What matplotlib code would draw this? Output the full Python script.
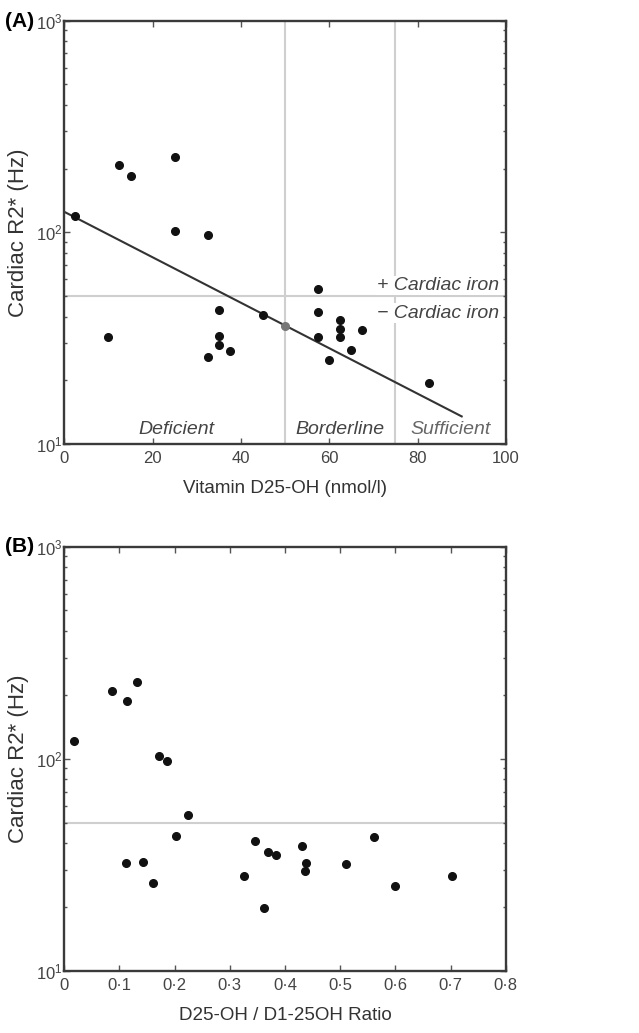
import numpy as np
import matplotlib
matplotlib.use('Agg')
import matplotlib.pyplot as plt

plt.rcParams['font.family'] = ['Liberation Sans', 'DejaVu Sans']
plt.rcParams['mathtext.fontset'] = 'custom'
plt.rcParams['mathtext.rm'] = 'Liberation Sans'
plt.rcParams['mathtext.default'] = 'regular'

# panel A : vitamin D25-OH vs cardiac R2*
vitd = [2.5, 12.5, 15, 25, 25, 32.5, 10, 35, 35, 35, 32.5, 37.5, 45,
        57.5, 57.5, 57.5, 60, 62.5, 62.5, 62.5, 65, 67.5, 82.5]
r2_a = [120, 207, 185, 228, 102, 97, 32, 43, 32.3, 29.2, 25.7, 27.6, 40.6,
        53.9, 42.2, 31.9, 24.9, 38.5, 35.1, 32.1, 27.8, 34.7, 19.5]
# grey point sitting on the fit line at 50
grey_x = [50]
grey_y = [35.9]
# fitted line end points
fit_x = [0, 90]
fit_y = [125, 13.5]

# panel B : D25-OH / D1-25OH ratio vs cardiac R2*
ratio = [0.018, 0.086, 0.113, 0.131, 0.172, 0.186, 0.111, 0.143, 0.161,
         0.203, 0.224, 0.326, 0.346, 0.362, 0.370, 0.384, 0.431, 0.438,
         0.437, 0.510, 0.561, 0.600, 0.702]
r2_b = [121, 209, 187, 229, 103, 98, 32.2, 32.6, 25.8, 43.2, 54.3, 27.9,
        40.8, 19.7, 36.3, 35.2, 38.6, 32.2, 29.5, 32.0, 42.8, 25.1, 28.1]

xt_a = [0, 20, 40, 60, 80, 100]
xt_a_lab = ['0', '20', '40', '60', '80', '100']
xt_b = [0, 0.1, 0.2, 0.3, 0.4, 0.5, 0.6, 0.7, 0.8]
xt_b_lab = ['0', '0·1', '0·2', '0·3', '0·4', '0·5', '0·6', '0·7', '0·8']

fig = plt.figure(figsize=(6.39, 10.33), dpi=100)
axA = fig.add_axes([0.1006, 0.5702, 0.691, 0.4098])
axB = fig.add_axes([0.1006, 0.0603, 0.691, 0.4105])

grey = '#cfcfcf'
spine = '#3a3a3a'


def style(ax):
    ax.set_yscale('log')
    ax.set_ylim(10, 1000)
    for s in ax.spines.values():
        s.set_color(spine)
        s.set_linewidth(1.7)
    ax.tick_params(which='both', direction='in', top=True, right=True,
                   color='#555555', labelcolor='#444444', labelsize=12)
    ax.tick_params(which='major', length=4, width=1)
    ax.tick_params(which='minor', length=2.5, width=1)
    ax.tick_params(axis='x', which='major', pad=5)
    ax.tick_params(axis='y', which='major', pad=1.5)
    ax.set_ylabel('Cardiac R2* (Hz)', fontsize=16, color='#333333', labelpad=5)


# ---- panel A
style(axA)
axA.set_xlim(0, 100)
axA.set_xticks(xt_a)
axA.set_xticklabels(xt_a_lab)
axA.axvline(50, color=grey, lw=1.5, zorder=1)
axA.axvline(75, color=grey, lw=1.5, zorder=1)
axA.axhline(50, color=grey, lw=1.5, zorder=1)
axA.plot(fit_x, fit_y, color='#333333', lw=1.5, zorder=2)
axA.plot(vitd, r2_a, 'o', color='#111111', ms=5.5, zorder=3)
axA.plot(grey_x, grey_y, 'o', color='#777777', ms=5.5, zorder=3)
axA.set_xlabel('Vitamin D25-OH (nmol/l)', fontsize=13.5, color='#333333', labelpad=10)

tkw = dict(style='italic', color='#444444', fontsize=14)
bb = dict(facecolor='white', edgecolor='none', pad=1)
axA.text(98.5, 56, '+ Cardiac iron', ha='right', va='center', bbox=bb, **tkw)
axA.text(98.5, 41.5, '− Cardiac iron', ha='right', va='center', bbox=bb, **tkw)
axA.text(25.5, 11.7, 'Deficient', ha='center', va='center', **tkw)
axA.text(62.5, 11.7, 'Borderline', ha='center', va='center', **tkw)
axA.text(87.5, 11.7, 'Sufficient', ha='center', va='center',
         style='italic', color='#666666', fontsize=14)

# ---- panel B
style(axB)
axB.set_xlim(0, 0.8)
axB.set_xticks(xt_b)
axB.set_xticklabels(xt_b_lab)
axB.axhline(50, color=grey, lw=1.5, zorder=1)
axB.plot(ratio, r2_b, 'o', color='#111111', ms=5.5, zorder=3)
axB.set_xlabel('D25-OH / D1-25OH Ratio', fontsize=13.5, color='#333333', labelpad=10)

fig.text(0.008, 0.979, '(A)', fontsize=15, fontweight='bold', va='center')
fig.text(0.008, 0.471, '(B)', fontsize=15, fontweight='bold', va='center')

fig.savefig('out.png', dpi=100)
